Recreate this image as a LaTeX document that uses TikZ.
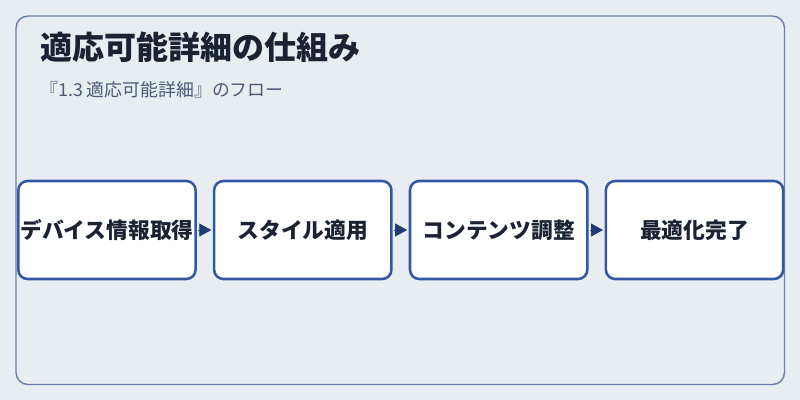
\documentclass[tikz,border=0pt]{standalone}
\usepackage{fontspec}
\setmainfont{Noto Sans CJK JP}
\usepackage{tikz}
\usetikzlibrary{arrows.meta, positioning, backgrounds}
\usepackage{xcolor}
\definecolor{pagebg}{HTML}{E8EDF2}
\definecolor{framecol}{HTML}{6A80A8}
\definecolor{boxline}{HTML}{3358A3}
\definecolor{inkcol}{HTML}{1A2233}
\definecolor{subcol}{HTML}{4B5A78}
\definecolor{tipcol}{HTML}{1F3B73}

\begin{document}
\begin{tikzpicture}[
    x=0.75pt, y=-0.75pt,
    node distance = 12pt,
    stagebox/.style = {rectangle, draw=boxline, line width=1.9pt, fill=white, rounded corners=7pt, minimum width=133pt, minimum height=73.5pt, inner sep=0pt, text centered, font=\bfseries\fontsize{16.3}{19}\selectfont, text=inkcol},
    arrow/.style = {draw=tipcol, line width=0.6pt, -{Triangle[length=9pt, width=9.75pt]}, shorten <=1pt, shorten >=1.2pt}
]
    % Page and frame
    \fill[pagebg] (0,0) rectangle (800,400);
    \useasboundingbox (0,0) rectangle (800,400);
    \draw[framecol, line width=1.1pt, rounded corners=9pt] (16,16) rectangle (784.5,384.5);

    % Heading
    \node[anchor=west, inner sep=0pt, font=\bfseries\fontsize{24}{28}\selectfont, text=inkcol] (title) at (40,47) {適応可能詳細の仕組み};
    \node[anchor=west, inner sep=0pt, font=\fontsize{13.4}{16}\selectfont, text=subcol] (subtitle) at (40,90) {『1.3 適応可能詳細』のフロー};

    % Flow steps
    \node[stagebox, anchor=west] (device) at (17,230) {デバイス情報取得};
    \node[stagebox, right=of device] (style) {スタイル適用};
    \node[stagebox, right=of style] (content) {コンテンツ調整};
    \node[stagebox, right=of content] (done) {最適化完了};

    % Connecting arrows
    \draw[arrow] (device.east) -- (style.west);
    \draw[arrow] (style.east) -- (content.west);
    \draw[arrow] (content.east) -- (done.west);
\end{tikzpicture}
\end{document}
